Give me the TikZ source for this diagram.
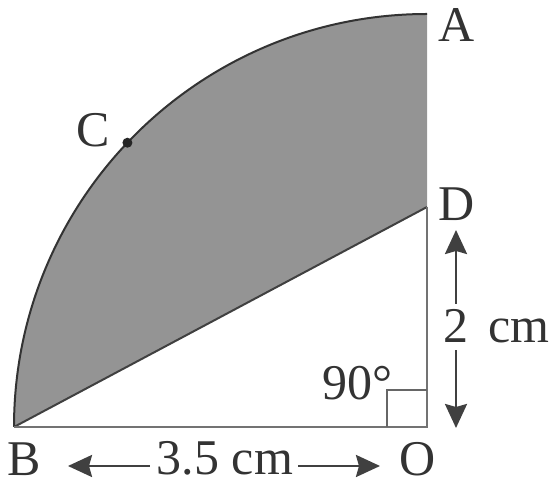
\documentclass[tikz,border=0pt]{standalone}
\usepackage{fontspec}
\setmainfont{Liberation Serif}
\usetikzlibrary{arrows.meta}

\begin{document}
\begin{tikzpicture}[x=1pt,y=1pt,
  lbl/.style={inner sep=0pt,font=\fontsize{50}{50}\selectfont,black!80},
  dimarrow/.style={-{Stealth[length=24pt,width=22pt,inset=3pt]},line width=2.5pt,black!75}]
\useasboundingbox (0,0) rectangle (549,486);
\coordinate (O) at (427,59);
\coordinate (B) at (14,59);
\coordinate (A) at (427,472);
\coordinate (D) at (427,279);
\path ([shift={(O)}]136.5:413) coordinate (C);
% shaded segment
\fill[black!42] (B) arc[start angle=180,end angle=90,radius=413] -- (D) -- cycle;
\draw[line width=2pt,black!80] (B) arc[start angle=180,end angle=90,radius=413];
\draw[line width=2pt,black!75] (B) -- (D);
\draw[line width=2.5pt,black!55] (B) -- (O) -- (D);
\draw[line width=2pt,black!60] ([xshift=-40pt]O) |- ([yshift=37pt]O);
\fill[black!85] (C) circle[radius=5];
% labels
\node[lbl] (lA) at (457,461) {A};
\node[lbl] (lD) at (457,282) {D};
\node[lbl] (lC) at (93,356) {C};
\node[lbl] (lB) at (24,27) {B};
\node[lbl] (lO) at (418,27) {O};
\node[lbl,anchor=base] (ang) at (357,86) {90°};
\node[lbl,anchor=base] (two) at (456,143) {2};
\node[lbl,anchor=base west] (cmv) at (488,143) {cm};
\node[lbl,anchor=base] (len) at (225,11) {3.5 cm};
% dimension arrows
\coordinate (tipD) at (456,256);
\coordinate (tipO) at (456,58);
\coordinate (tipB) at (68,20);
\coordinate (tipR) at (380,20);
\draw[dimarrow,shorten <=6pt] (two.north) -- (tipD);
\draw[dimarrow,shorten <=7pt] (two.south) -- (tipO);
\draw[dimarrow,shorten <=7pt] (len.west |- tipB) -- (tipB);
\draw[dimarrow,shorten <=5pt] (len.east |- tipR) -- (tipR);
\end{tikzpicture}
\end{document}
